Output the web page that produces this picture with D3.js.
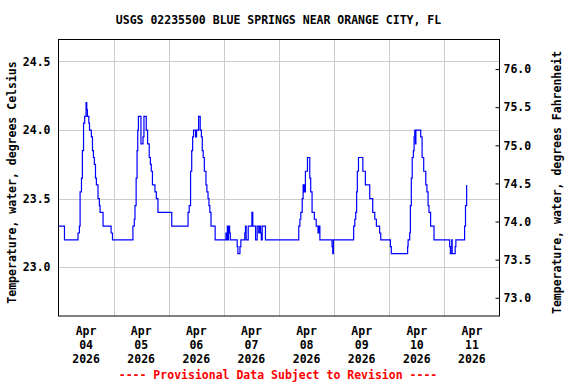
<!DOCTYPE html>
<html>
<head>
<meta charset="utf-8">
<script src="https://cdn.jsdelivr.net/npm/d3@7"></script>
<style>
  body { margin: 0; background: #fff; }
  svg { display: block; }
  text { font-family: "DejaVu Sans Mono", monospace; font-weight: bold; font-size: 11.5px; }
</style>
</head>
<body>
<svg id="chart" width="576" height="384"></svg>
<script>
// hours after 2026-04-04 00:00, and water temperature in deg C (value changes)
const hours = [
  0, 2.6, 8.5, 9.1, 9.4, 10.0, 10.4, 10.9, 11.4, 12.0, 12.3, 12.6, 13.2, 13.5, 14.3, 14.8, 15.2, 15.6,
  16.1, 16.5, 17.2, 17.8, 18.1, 19.4, 22.9, 23.5,
  32.4, 33.0, 33.3, 33.8, 34.2, 34.5, 34.8, 35.9, 36.8, 37.2, 38.2, 38.8, 39.5, 40.0, 40.4, 40.9,
  42.0, 42.6, 43.3, 49.3,
  56.4, 56.9, 57.5, 58.0, 58.4, 58.8, 59.7, 60.1, 61.0, 61.7, 62.2, 62.6, 63.0, 63.5, 64.2, 64.6,
  65.1, 65.5, 65.9, 66.4, 68.2,
  72.9, 73.2, 73.5, 73.8, 74.0, 74.5, 74.8, 77.8, 78.1, 79.0, 79.4, 81.1, 81.4, 81.7, 82.6, 84.2,
  84.6, 85.8, 86.5, 87.2, 87.5, 88.0, 88.3, 88.7, 90.1,
  104.6, 105.1, 105.5, 106.1, 106.5, 106.8, 107.1, 107.2, 107.5, 108.4, 109.4, 109.8, 110.4, 111.4,
  112.2, 113.0, 113.4, 113.8, 119.1, 119.4, 119.7,
  128.5, 129.0, 129.4, 129.8, 130.1, 130.6, 132.5, 133.6, 135.5, 136.8, 137.7, 138.4, 139.8, 140.3,
  144.5, 144.9,
  152.0, 152.2, 152.9, 153.2, 153.6, 154.0, 154.5, 154.8, 155.1, 155.4, 155.6, 157.7, 158.3, 159.0,
  159.9, 160.4, 160.9, 161.3, 162.0, 163.5, 170.3, 170.6, 171.2, 171.4, 172.7, 173.0,
  176.8, 177.2, 177.7
]
const tempC = [
  23.3, 23.2, 23.25, 23.3, 23.55, 23.65, 23.85, 24.05, 24.1, 24.2, 24.15, 24.1, 24.05, 24.0, 23.95, 23.85, 23.8, 23.75,
  23.65, 23.6, 23.5, 23.45, 23.4, 23.3, 23.25, 23.2,
  23.3, 23.35, 23.45, 23.65, 23.85, 24.0, 24.1, 23.9, 23.95, 24.1, 24.0, 23.9, 23.8, 23.75, 23.7, 23.6,
  23.55, 23.5, 23.4, 23.3,
  23.4, 23.45, 23.7, 23.85, 23.95, 24.0, 23.95, 24.0, 24.1, 24.0, 23.95, 23.85, 23.8, 23.7, 23.6, 23.55,
  23.5, 23.45, 23.4, 23.3, 23.2,
  23.25, 23.2, 23.3, 23.2, 23.3, 23.25, 23.2, 23.15, 23.1, 23.15, 23.2, 23.25, 23.3, 23.2, 23.3, 23.4,
  23.3, 23.2, 23.3, 23.25, 23.3, 23.25, 23.2, 23.3, 23.2,
  23.3, 23.35, 23.4, 23.5, 23.6, 23.55, 23.6, 23.55, 23.7, 23.8, 23.65, 23.55, 23.4, 23.35,
  23.3, 23.25, 23.3, 23.2, 23.15, 23.1, 23.2,
  23.3, 23.35, 23.4, 23.55, 23.7, 23.8, 23.7, 23.6, 23.5, 23.4, 23.35, 23.3, 23.25, 23.2,
  23.15, 23.1,
  23.15, 23.2, 23.25, 23.45, 23.65, 23.8, 23.85, 23.95, 24.0, 23.9, 24.0, 23.95, 23.8, 23.7,
  23.6, 23.55, 23.45, 23.4, 23.3, 23.2, 23.15, 23.1, 23.2, 23.1, 23.15, 23.2,
  23.3, 23.45, 23.6
]
const dayTicks = ["2026-04-04", "2026-04-05", "2026-04-06", "2026-04-07", "2026-04-08", "2026-04-09", "2026-04-10", "2026-04-11"]
const celsiusTicks = [23.0, 23.5, 24.0, 24.5]
const fahrenheitTicks = [73.0, 73.5, 74.0, 74.5, 75.0, 75.5, 76.0]
const title = "USGS 02235500 BLUE SPRINGS NEAR ORANGE CITY, FL"
const leftLabel = "Temperature, water, degrees Celsius"
const rightLabel = "Temperature, water, degrees Fahrenheit"
const note = "---- Provisional Data Subject to Revision ----"

const margin = {top: 39.5, right: 76.5, bottom: 68, left: 58.5}
const width = 576
const height = 384
const start = new Date(2026, 3, 4)
const end = new Date(2026, 3, 12)
const toDate = h => new Date(start.getTime() + h * 3600e3)
const parseDay = d3.timeParse("%Y-%m-%d")
const c2f = c => c * 9 / 5 + 32

const x = d3.scaleTime().domain([start, end]).range([margin.left, width - margin.right])
const cDomain = [22.645, 24.66]
const y = d3.scaleLinear().domain(cDomain).range([height - margin.bottom, margin.top])
const yF = d3.scaleLinear().domain(cDomain.map(c2f)).range([height - margin.bottom, margin.top])

const svg = d3.select("#chart")

// grid
const grid = svg.append("g").attr("stroke", "#cccccc").attr("stroke-width", 1)
grid.selectAll(".h").data(celsiusTicks).join("line")
  .attr("x1", margin.left).attr("x2", width - margin.right)
  .attr("y1", d => Math.round(y(d)) + 0.5).attr("y2", d => Math.round(y(d)) + 0.5)
grid.selectAll(".v").data(dayTicks.slice(1)).join("line")
  .attr("x1", d => Math.round(x(parseDay(d))) + 0.5).attr("x2", d => Math.round(x(parseDay(d))) + 0.5)
  .attr("y1", margin.top).attr("y2", height - margin.bottom)

// data line
const data = hours.map((h, i) => ({date: toDate(h), value: tempC[i]}))
const line = d3.line()
  .x(d => x(d.date))
  .y(d => y(d.value))
  .curve(d3.curveStepAfter)
svg.append("path")
  .datum(data)
  .attr("fill", "none")
  .attr("stroke", "#0000ff")
  .attr("stroke-width", 1.2)
  .attr("d", line)

// frame
svg.append("rect")
  .attr("x", margin.left).attr("y", margin.top)
  .attr("width", width - margin.left - margin.right)
  .attr("height", height - margin.top - margin.bottom)
  .attr("fill", "none").attr("stroke", "#000").attr("stroke-width", 1)

// left axis
const left = svg.append("g")
  .attr("transform", "translate(" + margin.left + ",0)")
  .call(d3.axisLeft(y).tickValues(celsiusTicks).tickFormat(d3.format(".1f")).tickSize(0).tickPadding(8))
left.select(".domain").remove()

// right axis
const right = svg.append("g")
  .attr("transform", "translate(" + (width - margin.right) + ",0)")
  .call(d3.axisRight(yF).tickValues(fahrenheitTicks).tickFormat(d3.format(".1f")).tickSize(-4).tickPadding(4))
right.select(".domain").remove()

svg.selectAll(".tick text").attr("fill", "#000").style("font-size", "11.5px").style("font-family", "DejaVu Sans Mono")

// x labels, centred at noon of each day
const xl = svg.append("g")
dayTicks.forEach(d => {
  const day = parseDay(d)
  const t = xl.append("text")
    .attr("x", x(d3.timeHour.offset(day, 12)))
    .attr("text-anchor", "middle")
  t.append("tspan").attr("x", x(d3.timeHour.offset(day, 12))).attr("y", 335).text(d3.timeFormat("%b")(day))
  t.append("tspan").attr("x", x(d3.timeHour.offset(day, 12))).attr("y", 349).text(d3.timeFormat("%d")(day))
  t.append("tspan").attr("x", x(d3.timeHour.offset(day, 12))).attr("y", 363).text(d3.timeFormat("%Y")(day))
})

svg.append("text")
  .attr("x", 278.5).attr("y", 24)
  .attr("text-anchor", "middle")
  .text(title)

svg.append("text")
  .attr("transform", "translate(16," + (margin.top + 143) + ") rotate(-90)")
  .attr("text-anchor", "middle")
  .text(leftLabel)

svg.append("text")
  .attr("transform", "translate(561," + (margin.top + 143) + ") rotate(-90)")
  .attr("text-anchor", "middle")
  .text(rightLabel)

svg.append("text")
  .attr("x", 278).attr("y", 379)
  .attr("text-anchor", "middle")
  .attr("fill", "#ff0000")
  .text(note)
</script>
</body>
</html>
